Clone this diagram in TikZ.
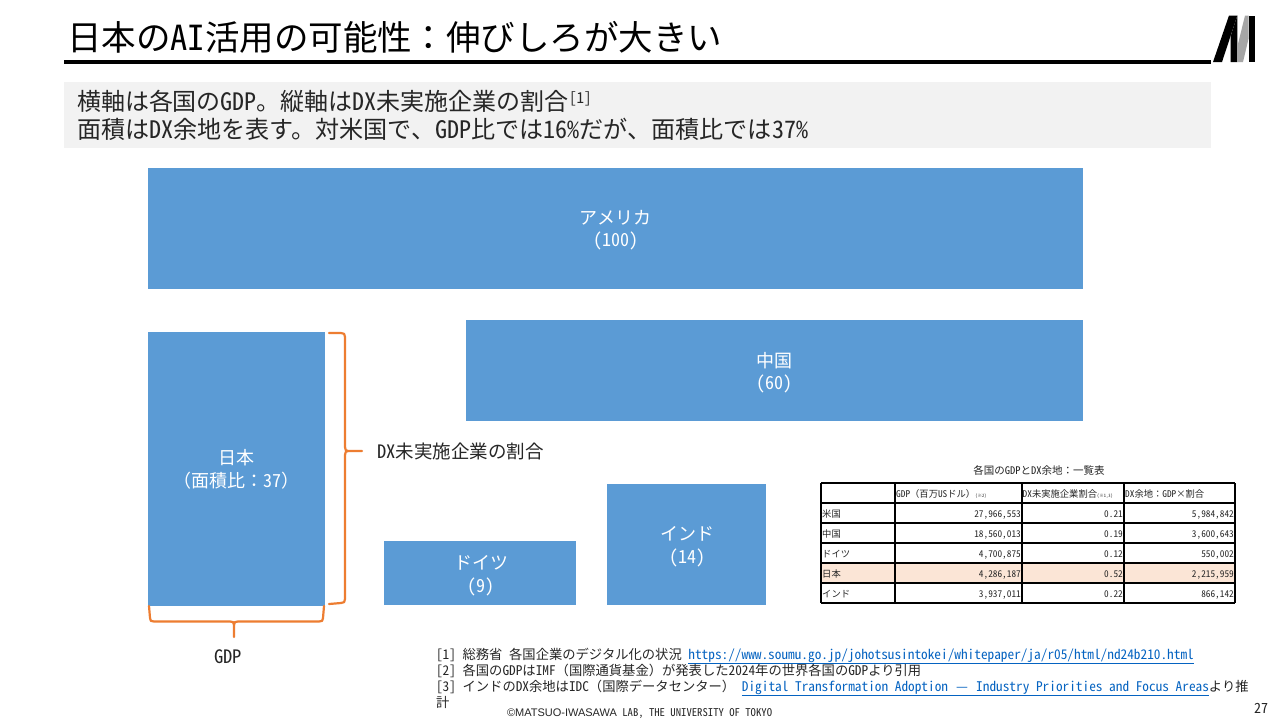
\documentclass[tikz,border=0pt]{standalone}
\usepackage{fontspec}
\setmainfont{Noto Sans CJK JP}[RawFeature=+hwid]
\newfontfamily\fwfont{Noto Sans CJK JP}
\setsansfont{Liberation Sans}
\definecolor{barblue}{HTML}{5B9BD5}
\definecolor{brace}{HTML}{ED7D31}
\definecolor{panel}{HTML}{F2F2F2}
\definecolor{rowhi}{HTML}{FBE5D6}
\definecolor{linkc}{HTML}{0563C1}
\definecolor{ink}{HTML}{262626}
\newcommand{\fs}[1]{\fontsize{#1}{#1}\selectfont}
\newcommand{\FW}[1]{{\fwfont #1}}
\newcommand{\lnk}[1]{\textcolor{linkc}{\underline{#1}}}
\tikzset{
  x=1pt,y=-1pt,
  txt/.style={anchor=base west,inner sep=0pt,outer sep=0pt,text=ink},
  bar/.style={fill=barblue,draw=none,anchor=north west,inner sep=0pt,outer sep=0pt,text=white,align=center},
  barlabel/.style={anchor=base,inner sep=0pt,text=white,font=\fs{18}},
  bracepath/.style={draw=brace,line width=2.2pt,line cap=round,line join=round,fill=none},
  foot/.style={txt,font=\fs{13.3}},
  cellL/.style={anchor=base west,inner sep=0pt,font=\fs{9.3},text=ink},
  cellR/.style={anchor=base east,inner sep=0pt,font=\fs{9.3},text=ink},
  grid/.style={draw=black,line width=1.4pt}
}
\begin{document}
\begin{tikzpicture}
\useasboundingbox (0,0) rectangle (1278,718);
\fill[white] (0,0) rectangle (1278,718);
% title
\node[txt,font=\fs{34.5},text=black] (title) at (67,50) {日本のAI活用の可能性\FW{：}伸びしろが大きい};
\fill[black] (64,60) rectangle (1211,64);
% logo
\fill[black] (1213,62) -- (1229,15.5) -- (1237.3,15.5) -- (1222,62) -- cycle;
\fill[black] (1230.7,62) -- (1230.7,36) -- (1237.3,15.5) -- (1237.3,62) -- cycle;
\fill[black!35] (1237.5,62) -- (1243,62) -- (1248.7,38) -- (1248.7,15.5) -- (1245,15.5) -- (1237.5,46) -- cycle;
\fill[black] (1249,15.5) rectangle (1255.3,62);
% subtitle
\fill[panel] (64,82) rectangle (1211,148);
\node[txt,font=\fs{24}] (sub1) at (77,110) {横軸は各国のGDP。縦軸はDX未実施企業の割合};
\node[txt,font=\fs{15}] (sub1n) at (569,103) {[1]};
\node[txt,font=\fs{24.1}] (sub2) at (77,138) {面積はDX余地を表す。対米国で、GDP比では16\%だが、面積比では37\%};
% bars
\node[bar,minimum width=935,minimum height=121] (us) at (148,168) {};
\node[barlabel] (usa) at (615.5,224) {アメリカ};
\node[barlabel] (usb) at (615.5,246) {(100)};
\node[bar,minimum width=617,minimum height=101] (cn) at (466,320) {};
\node[barlabel] (cna) at (774.5,367) {中国};
\node[barlabel] (cnb) at (774.5,389) {(60)};
\node[bar,minimum width=176.5,minimum height=274] (jp) at (148,332) {};
\node[barlabel] (jpa) at (236.5,464) {日本};
\node[barlabel] (jpb) at (236.5,487) {\FW{（}面積比\FW{：}37\FW{）}};
\node[bar,minimum width=192,minimum height=64] (de) at (384,541) {};
\node[barlabel] (dea) at (481,569) {ドイツ};
\node[barlabel] (deb) at (481,592) {(9)};
\node[bar,minimum width=159,minimum height=121] (in) at (607,484) {};
\node[barlabel] (ina) at (687,540) {インド};
\node[barlabel] (inb) at (687,563) {(14)};
% braces
\draw[bracepath] (329,333) -- (341,333) .. controls (344,333) and (345,334) .. (345,337) -- (345,447) .. controls (345,450) and (346,451) .. (348,451) -- (362,451);
\draw[bracepath] (348,451) .. controls (346,451) and (345,452) .. (345,455) -- (345,599) .. controls (345,602) and (344,603) .. (341,603) -- (329,604);
\draw[bracepath] (149,606) -- (150,618) .. controls (150,621) and (151,621.5) .. (154,621.5) -- (230,621.5) .. controls (233,621.5) and (234,622) .. (234,625) -- (234,637);
\draw[bracepath] (234,625) .. controls (234,622) and (235,621.5) .. (238,621.5) -- (319,621.5) .. controls (322,621.5) and (323,621) .. (323,618) -- (324,606);
\node[txt,font=\fs{18.5}] (lbl1) at (377,458) {DX未実施企業の割合};
\node[txt,font=\fs{18.5}] (lbl2) at (214,663) {GDP};
% table
\node[anchor=base,inner sep=0pt,font=\fs{10.5},text=ink] (tt) at (1039,474) {各国のGDPとDX余地\FW{：}一覧表};
\fill[rowhi] (821,563) rectangle (1235,583);
\foreach \yy in {483,503,523,543,563,583,603} \draw[grid] (821,\yy) -- (1235,\yy);
\foreach \xx in {821,895,1022,1124,1235} \draw[grid] (\xx,483) -- (\xx,603);
\node[cellL] (h1) at (896,497) {GDP\FW{（}百万USドル\FW{）}{\fs{4.5}(※2)}};
\node[cellL] (h2) at (1022.5,497) {DX未実施企業割合{\fs{4.5}(※1,3)}};
\node[cellL] (h3) at (1125,497) {DX余地\FW{：}GDP\FW{×}割合};
\node[cellL] (r1) at (822,517) {米国};
\node[cellL] (r2) at (822,537) {中国};
\node[cellL] (r3) at (822,557) {ドイツ};
\node[cellL] (r4) at (822,577) {日本};
\node[cellL] (r5) at (822,597) {インド};
\node[cellR] (a1) at (1021,517) {27,966,553};
\node[cellR] (b1) at (1123,517) {0.21};
\node[cellR] (c1) at (1234,517) {5,984,842};
\node[cellR] (a2) at (1021,537) {18,560,013};
\node[cellR] (b2) at (1123,537) {0.19};
\node[cellR] (c2) at (1234,537) {3,600,643};
\node[cellR] (a3) at (1021,557) {4,700,875};
\node[cellR] (b3) at (1123,557) {0.12};
\node[cellR] (c3) at (1234,557) {550,002};
\node[cellR] (a4) at (1021,577) {4,286,187};
\node[cellR] (b4) at (1123,577) {0.52};
\node[cellR] (c4) at (1234,577) {2,215,959};
\node[cellR] (a5) at (1021,597) {3,937,011};
\node[cellR] (b5) at (1123,597) {0.22};
\node[cellR] (c5) at (1234,597) {866,142};
% footnotes
\node[foot] (f1) at (436,659) {[1] 総務省 各国企業のデジタル化の状況 \lnk{https://www.soumu.go.jp/johotsusintokei/whitepaper/ja/r05/html/nd24b210.html}};
\node[foot] (f2) at (436,675) {[2] 各国のGDPはIMF\FW{（}国際通貨基金\FW{）}が発表した2024年の世界各国のGDPより引用};
\node[foot] (f3) at (436,691) {[3] インドのDX余地はIDC\FW{（}国際データセンター\FW{）} \lnk{Digital Transformation Adoption \kern1.5pt—\kern1.5pt\ Industry Priorities and Focus Areas}より推};
\node[foot] (f4) at (436,707) {計};
\node[txt,font=\fs{10.7}] (cr) at (507,716) {{\sffamily\fs{11}©MATSUO-IWASAWA} LAB, THE UNIVERSITY OF TOKYO};
\node[txt,font=\fs{14}] (pg) at (1254,713) {27};
\end{tikzpicture}
\end{document}
